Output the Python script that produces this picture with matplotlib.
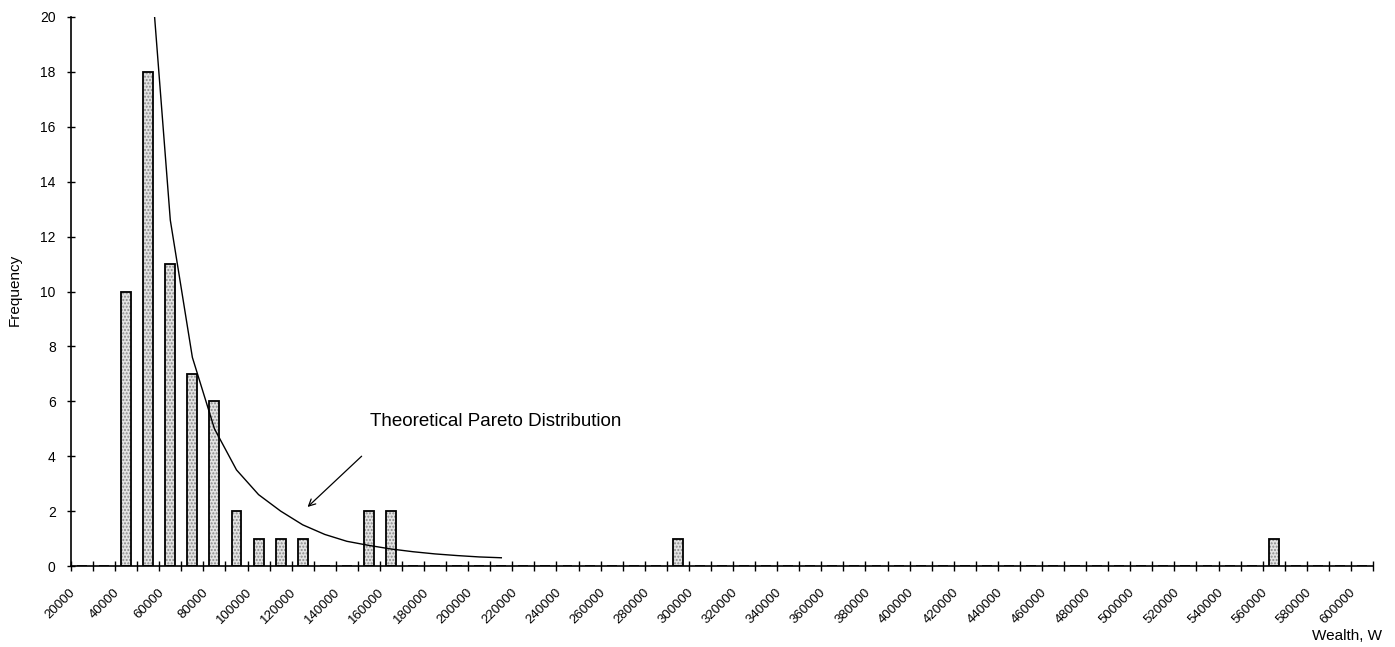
import matplotlib.pyplot as plt
import matplotlib.transforms as mtransforms
import numpy as np

plt.rcParams['font.family'] = ['Liberation Sans', 'DejaVu Sans']

# Wealth bins (upper bound of each 10000 class) and observed counts
bins = list(range(20000, 600001, 10000))
observed = {40000: 10, 50000: 18, 60000: 11, 70000: 7, 80000: 6, 90000: 2,
            100000: 1, 110000: 1, 120000: 1, 150000: 2, 160000: 2,
            290000: 1, 560000: 1}
freq = [observed.get(b, 0) for b in bins]

# Theoretical Pareto curve evaluated at the bins 50000..210000
pareto_bins = list(range(50000, 210001, 10000))
pareto_vals = [23.0, 12.6, 7.6, 5.0, 3.5, 2.6, 2.0, 1.5, 1.15, 0.9,
               0.75, 0.62, 0.52, 0.44, 0.38, 0.33, 0.30]

pos = np.arange(len(bins))
pareto_pos = [bins.index(b) for b in pareto_bins]

fig = plt.figure(figsize=(13.95, 6.47), dpi=100)
ax = fig.add_axes([71 / 1395, 81 / 647, 1302 / 1395, 549 / 647])

# stippled fill, then the black outline on top
ax.bar(pos, freq, width=0.45, color='#e4e4e4', edgecolor='#8a8a8a',
       hatch='.....', linewidth=0, zorder=2)
ax.bar(pos, freq, width=0.45, fill=False, edgecolor='black',
       linewidth=1.3, zorder=3)

ax.plot(pareto_pos, pareto_vals, color='black', lw=1.0, zorder=4, clip_on=True)

ax.annotate('', xy=(10.22, 2.15), xytext=(12.67, 4.0),
            arrowprops=dict(arrowstyle='->', color='black', lw=0.9,
                            mutation_scale=12, shrinkA=0, shrinkB=0))
ax.text(13.05, 5.25, 'Theoretical Pareto Distribution', fontsize=13.5,
        ha='left', va='center')

ax.set_xlim(-0.5, len(bins) - 0.5)
ax.set_ylim(0, 20)

for s in ['top', 'right']:
    ax.spines[s].set_visible(False)
for s in ['left', 'bottom']:
    ax.spines[s].set_linewidth(1.2)

# labels on every other bin, tick marks on bin boundaries
ax.set_xticks(pos[::2])
ax.set_xticklabels([str(b) for b in bins[::2]], rotation=45, fontsize=9.5,
                   ha='right', va='center', rotation_mode='anchor')
ax.set_xticks(np.arange(len(bins) + 1) - 0.5, minor=True)
ax.tick_params(axis='x', which='major', length=0, pad=18)
ax.tick_params(axis='x', which='minor', direction='inout', length=7, width=1)
offset = mtransforms.ScaledTranslation(-6 / 72, 0, fig.dpi_scale_trans)
for lbl in ax.get_xticklabels():
    lbl.set_transform(lbl.get_transform() + offset)

ax.set_yticks(range(0, 21, 2))
ax.tick_params(axis='y', direction='inout', length=6, width=1, pad=8,
               labelsize=10)

fig.text(15 / 1395, 1 - 290 / 647, 'Frequency', rotation=90, fontsize=11,
         ha='center', va='center')
fig.text(1347 / 1395, 1 - 636 / 647, 'Wealth, W', fontsize=11,
         ha='center', va='center')

fig.savefig('out.png', dpi=100)
